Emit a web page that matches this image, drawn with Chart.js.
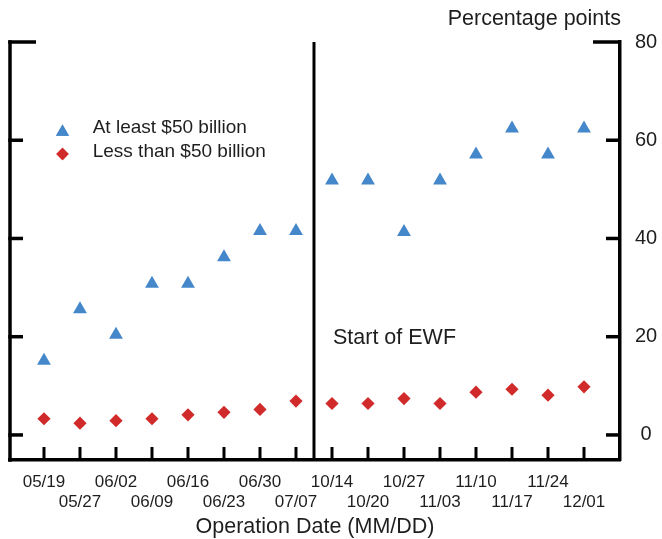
<!DOCTYPE html>
<html><head><meta charset="utf-8">
<script src="https://cdn.jsdelivr.net/npm/chart.js@4.4.1/dist/chart.umd.min.js"></script>
<style>html,body{margin:0;padding:0;background:#fff;}</style>
</head><body>
<canvas id="c" width="662" height="539"></canvas>
<script>
const categories = ['05/19','05/27','06/02','06/09','06/16','06/23','06/30','07/07',
                    '10/14','10/20','10/27','11/03','11/10','11/17','11/24','12/01'];
const atLeast50 = [15.1, 25.6, 20.4, 30.8, 30.8, 36.2, 41.5, 41.5,
                   51.8, 51.8, 41.3, 51.8, 57.1, 62.4, 57.1, 62.4];
const lessThan50 = [3.3, 2.4, 2.9, 3.3, 4.1, 4.6, 5.2, 6.9,
                    6.4, 6.4, 7.4, 6.4, 8.7, 9.3, 8.1, 9.8];
const yTicks = [0, 20, 40, 60, 80];
const seriesNames = ['At least $50 billion', 'Less than $50 billion'];
const dividerAt = 7.5;
const dividerLabel = 'Start of EWF';
const yTitle = 'Percentage points';
const xTitle = 'Operation Date (MM/DD)';

const FONT = "'Liberation Sans', Arial, Helvetica, sans-serif";
const TXT = '#1e1e1e';
const BLUE = '#4487ca';
const RED = '#d02a2a';

function seg(ctx, x1, y1, x2, y2) { ctx.beginPath(); ctx.moveTo(x1, y1); ctx.lineTo(x2, y2); ctx.stroke(); }

const frame = {
  id: 'frame',
  afterDraw(chart) {
    const ctx = chart.ctx, a = chart.chartArea, xs = chart.scales.x, ys = chart.scales.y;
    ctx.save();
    ctx.strokeStyle = '#000';
    ctx.lineWidth = 3.5;
    seg(ctx, a.left, a.top - 1.75, a.left, a.bottom + 1.75);
    yTicks.forEach((v, i) => {
      const py = ys.getPixelForValue(v);
      const top = i === yTicks.length - 1;
      seg(ctx, a.left - 1.75, py, a.left + (top ? 26 : 13), py);
      seg(ctx, a.right - (top ? 27 : 14), py, a.right, py);
    });
    ctx.lineWidth = 3;
    categories.forEach((c, i) => {
      const px = xs.getPixelForValue(i);
      seg(ctx, px, a.bottom, px, a.bottom - 13);
    });
    const dx = xs.getPixelForValue(dividerAt);
    seg(ctx, dx, a.top, dx, a.bottom);
    ctx.fillStyle = TXT;
    ctx.textBaseline = 'middle';
    ctx.font = '21.5px ' + FONT;
    ctx.textAlign = 'left';
    ctx.fillText(dividerLabel, dx + 19, ys.getPixelForValue(20) + 1);
    ctx.textAlign = 'right';
    ctx.fillText(yTitle, a.right + 1, 19);
    ctx.textAlign = 'left';
    ctx.font = '19px ' + FONT;
    const ds = chart.data.datasets;
    const legY = [127.5, 152];
    const mkY = [132, 154];
    ds.forEach((d, i) => {
      ctx.fillStyle = d.pointBackgroundColor;
      Chart.helpers.drawPoint(ctx, {pointStyle: d.pointStyle, radius: i === 0 ? 7.5 : 6.2, rotation: 0, borderWidth: 0}, 62.5, mkY[i]);
      ctx.fill();
      ctx.fillStyle = TXT;
      ctx.fillText(d.label, 92.7, legY[i]);
    });
    ctx.restore();
  }
};

new Chart(document.getElementById('c'), {
  type: 'scatter',
  data: {
    datasets: [
      { label: seriesNames[0], data: atLeast50.map((v, i) => ({x: i, y: v})),
        pointStyle: 'triangle', pointRadius: 8, pointBackgroundColor: BLUE, backgroundColor: BLUE,
        pointBorderWidth: 0, borderWidth: 0, showLine: false },
      { label: seriesNames[1], data: lessThan50.map((v, i) => ({x: i, y: v})),
        pointStyle: 'rectRot', pointRadius: 6.6, pointBackgroundColor: RED, backgroundColor: RED,
        pointBorderWidth: 0, borderWidth: 0, showLine: false }
    ]
  },
  options: {
    responsive: false,
    animation: false,
    events: [],
    layout: { padding: { left: 10, right: 5, top: 42, bottom: 0 } },
    plugins: { legend: { display: false }, tooltip: { enabled: false }, title: { display: false } },
    scales: {
      x: {
        type: 'linear', position: 'bottom', bounds: 'data', min: -0.944, max: 16,
        afterBuildTicks: s => { s.ticks = categories.map((c, i) => ({ value: i })); },
        afterFit: s => { s.height = 79; },
        ticks: {
          autoSkip: false, maxRotation: 0, minRotation: 0, padding: 12.5, color: TXT,
          font: { family: FONT, size: 17, lineHeight: 1.15 },
          callback: v => { const i = Math.round(v); return i % 2 === 0 ? [categories[i]] : ['', categories[i]]; }
        },
        grid: { display: true, drawOnChartArea: false, drawTicks: false },
        border: { display: true, color: '#000', width: 3.5 },
        title: { display: true, text: xTitle, color: TXT, font: { family: FONT, size: 21.5, lineHeight: 1.2 }, padding: { top: 0, bottom: -1 } }
      },
      y: {
        type: 'linear', position: 'right', bounds: 'data', min: -5.1, max: 80,
        afterBuildTicks: s => { s.ticks = yTicks.map(v => ({ value: v })); },
        afterFit: s => { s.width = 37; },
        ticks: { padding: 15, crossAlign: 'center', color: TXT, font: { family: FONT, size: 20 } },
        grid: { display: true, drawOnChartArea: false, drawTicks: false },
        border: { display: true, color: '#000', width: 3.5 }
      }
    }
  },
  plugins: [frame]
});
</script>
</body></html>
